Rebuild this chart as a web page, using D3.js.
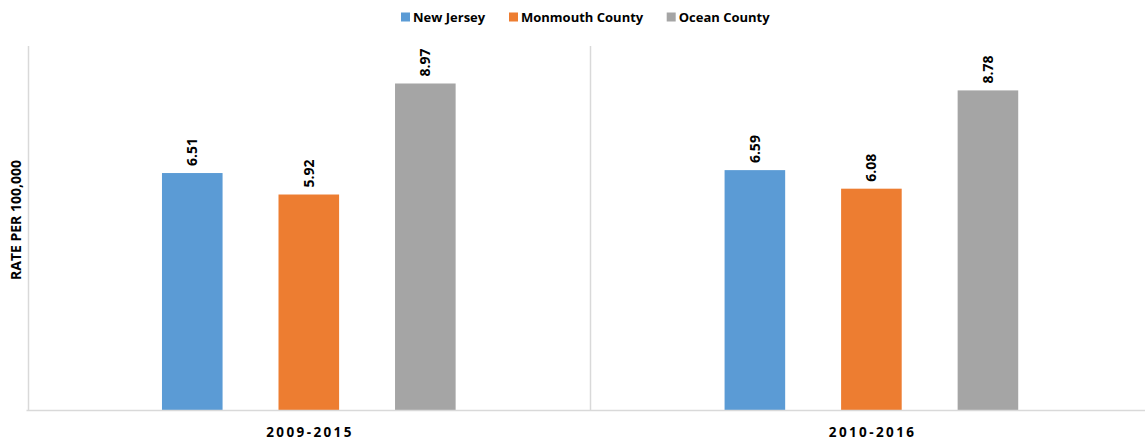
<!DOCTYPE html>
<html>
<head>
<meta charset="utf-8">
<script src="https://cdn.jsdelivr.net/npm/d3@7"></script>
<style>
  html, body { margin: 0; padding: 0; background: #fff; }
  svg { display: block; font-family: "Liberation Sans", Arial, sans-serif; }
</style>
</head>
<body>
<svg id="chart" width="1145" height="442"></svg>
<script>
// Rate per 100,000 by period and area
const periods = ["2009-2015", "2010-2016"];
const seriesNames = ["New Jersey", "Monmouth County", "Ocean County"];
const newJersey = [6.51, 6.59];
const monmouth = [5.92, 6.08];
const ocean = [8.97, 8.78];
const yTitle = "RATE PER 100,000";

const colors = ["#5B9BD5", "#ED7D31", "#A5A5A5"];
const seriesValues = [newJersey, monmouth, ocean];

const svg = d3.select("#chart");
const plot = { left: 27.5, right: 1152.7, top: 46, bottom: 410 };

const x0 = d3.scaleBand().domain(periods).range([plot.left, plot.right]).padding(0);
const x1 = d3.scaleBand().domain(seriesNames).range([0, x0.bandwidth()])
  .paddingInner(0.48).paddingOuter(1.154);
const y = d3.scaleLinear().domain([0, 10]).range([plot.bottom, plot.top]);

const axisColor = "#D9D9D9";

// category separators / vertical axis
svg.append("g").selectAll("line")
  .data(periods)
  .join("line")
  .attr("x1", d => Math.round(x0(d)) + 0.5)
  .attr("x2", d => Math.round(x0(d)) + 0.5)
  .attr("y1", plot.top)
  .attr("y2", plot.bottom)
  .attr("stroke", axisColor)
  .attr("stroke-width", 1.5);

// bars
const groups = svg.append("g").selectAll("g")
  .data(periods)
  .join("g")
  .attr("transform", d => `translate(${x0(d)},0)`);

const barData = (p, i) => seriesNames.map((s, k) => ({ s, k, v: seriesValues[k][i] }));

groups.selectAll("rect")
  .data((p, i) => barData(p, i))
  .join("rect")
  .attr("x", d => x1(d.s))
  .attr("width", x1.bandwidth())
  .attr("y", d => y(d.v))
  .attr("height", d => y(0) - y(d.v))
  .attr("fill", d => colors[d.k]);

// value labels, rotated
groups.selectAll("text")
  .data((p, i) => barData(p, i))
  .join("text")
  .attr("transform", d => `translate(${x1(d.s) + x1.bandwidth() / 2},${y(d.v) - 7}) rotate(-90)`)
  .attr("dy", "0.36em")
  .attr("text-anchor", "start")
  .attr("font-family", "Open Sans, sans-serif")
  .attr("font-size", 14)
  .attr("font-weight", "bold")
  .attr("fill", "#000")
  .text(d => d.v.toFixed(2));

// baseline
svg.append("line")
  .attr("x1", plot.left - 1)
  .attr("x2", 1145)
  .attr("y1", plot.bottom + 0.5)
  .attr("y2", plot.bottom + 0.5)
  .attr("stroke", axisColor)
  .attr("stroke-width", 1.5);

// category axis labels
const xAxis = d3.axisBottom(x0).tickSize(0).tickPadding(0);
const xg = svg.append("g").attr("transform", `translate(0,${plot.bottom})`).call(xAxis);
xg.select(".domain").remove();
xg.selectAll("text")
  .attr("y", 27)
  .attr("dy", 0)
  .attr("dx", 1.2)
  .attr("font-family", "Open Sans, sans-serif")
  .attr("font-size", 13.5)
  .attr("font-weight", "bold")
  .attr("letter-spacing", "2.4px")
  .attr("fill", "#000");

// y-axis title
svg.append("text")
  .attr("transform", "translate(20.5,220) rotate(-90)")
  .attr("text-anchor", "middle")
  .attr("font-family", "Open Sans, sans-serif")
  .attr("font-size", 14)
  .attr("font-weight", "bold")
  .attr("fill", "#000")
  .text(yTitle);

// legend
const legendX = [401, 509, 666.7];
const legend = svg.append("g").selectAll("g")
  .data(seriesNames)
  .join("g")
  .attr("transform", (d, i) => `translate(${legendX[i]},12.5)`);
legend.append("rect")
  .attr("width", 9).attr("height", 9)
  .attr("fill", (d, i) => colors[i]);
legend.append("text")
  .attr("x", 12)
  .attr("y", 9)
  .attr("font-family", "Open Sans, sans-serif")
  .attr("font-size", 13)
  .attr("font-weight", "bold")
  .attr("fill", "#000")
  .text(d => d);
</script>
</body>
</html>
